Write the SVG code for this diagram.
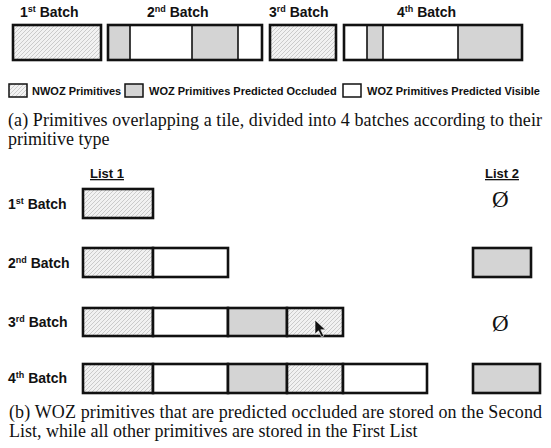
<svg xmlns="http://www.w3.org/2000/svg" width="551" height="448" viewBox="0 0 551 448">
<defs>
<pattern id="hatch" patternUnits="userSpaceOnUse" width="4" height="4">
<rect width="4" height="4" fill="#f2f2f2"/>
<path d="M-1,1 L1,-1 M0,4 L4,0 M3,5 L5,3" stroke="#b0b0b0" stroke-width="0.6"/>
</pattern>
</defs>
<style>
.lbl{font-family:"Liberation Sans",Arial,sans-serif;font-weight:bold;font-size:14px;fill:#111}
.sup{font-size:9px}
.leg{font-family:"Liberation Sans",Arial,sans-serif;font-weight:bold;font-size:11px;fill:#111}
.cap{font-family:"Liberation Serif","Times New Roman",serif;font-size:18px;fill:#111}
.h{fill:url(#hatch)}
.g{fill:#d4d4d4}
.w{fill:#fff}
.ob{fill:none;stroke:#111;stroke-width:2.6}
.seg{stroke:#111;stroke-width:2.6}
.div{stroke:#111;stroke-width:1.6}
.lg{stroke:#111;stroke-width:1.5}
.empty{font-family:"Liberation Serif","Times New Roman",serif;font-size:23px;fill:#111}
</style>

<!-- Top row: batches -->
<g id="top-labels">
<text class="lbl" x="20" y="17">1<tspan class="sup" dy="-5">st</tspan><tspan dy="5"> Batch</tspan></text>
<text class="lbl" x="147" y="17">2<tspan class="sup" dy="-5">nd</tspan><tspan dy="5"> Batch</tspan></text>
<text class="lbl" x="269" y="17">3<tspan class="sup" dy="-5">rd</tspan><tspan dy="5"> Batch</tspan></text>
<text class="lbl" x="397" y="17">4<tspan class="sup" dy="-5">th</tspan><tspan dy="5"> Batch</tspan></text>
</g>
<g id="top-batch1">
<rect class="h" x="13" y="25" width="88" height="35"/>
<rect class="ob" x="13" y="25" width="88" height="35"/>
</g>
<g id="top-batch2">
<rect class="g" x="108" y="25" width="22" height="35"/>
<rect class="w" x="130" y="25" width="62" height="35"/>
<rect class="g" x="192" y="25" width="46" height="35"/>
<rect class="w" x="238" y="25" width="24" height="35"/>
<line class="div" x1="130" y1="25" x2="130" y2="60"/>
<line class="div" x1="192" y1="25" x2="192" y2="60"/>
<line class="div" x1="238" y1="25" x2="238" y2="60"/>
<rect class="ob" x="108" y="25" width="154" height="35"/>
</g>
<g id="top-batch3">
<rect class="h" x="270" y="25" width="66" height="35"/>
<rect class="ob" x="270" y="25" width="66" height="35"/>
</g>
<g id="top-batch4">
<rect class="w" x="344" y="25" width="23" height="35"/>
<rect class="g" x="367" y="25" width="16" height="35"/>
<rect class="w" x="383" y="25" width="75" height="35"/>
<rect class="g" x="458" y="25" width="64" height="35"/>
<line class="div" x1="367" y1="25" x2="367" y2="60"/>
<line class="div" x1="383" y1="25" x2="383" y2="60"/>
<line class="div" x1="458" y1="25" x2="458" y2="60"/>
<rect class="ob" x="344" y="25" width="178" height="35"/>
</g>

<!-- Legend -->
<g id="legend">
<rect class="h lg" x="9" y="84" width="18" height="13"/>
<text class="leg" x="32" y="95">NWOZ Primitives</text>
<rect class="g lg" x="125" y="84" width="18" height="13"/>
<text class="leg" x="149" y="95">WOZ Primitives Predicted Occluded</text>
<rect class="w lg" x="343" y="84" width="18" height="13"/>
<text class="leg" x="367" y="95">WOZ Primitives Predicted Visible</text>
</g>

<g id="caption-a">
<text class="cap" x="8" y="126" textLength="534" lengthAdjust="spacing">(a) Primitives overlapping a tile, divided into 4 batches according to their</text>
<text class="cap" x="8" y="145">primitive type</text>
</g>

<!-- Lists -->
<g id="list-headers">
<text class="lbl" x="90" y="178" style="font-size:13px;text-decoration:underline">List 1</text>
<text class="lbl" x="485" y="178" style="font-size:13px;text-decoration:underline">List 2</text>
</g>

<g id="row1">
<text class="lbl" x="8" y="209">1<tspan class="sup" dy="-5">st</tspan><tspan dy="5"> Batch</tspan></text>
<rect class="h seg" x="83" y="189" width="70" height="29"/>
<text class="empty" x="492" y="207">Ø</text>
</g>

<g id="row2">
<text class="lbl" x="8" y="268">2<tspan class="sup" dy="-5">nd</tspan><tspan dy="5"> Batch</tspan></text>
<rect class="h seg" x="83" y="248" width="70" height="29"/>
<rect class="w seg" x="153" y="248" width="75" height="29"/>
<rect class="g seg" x="473" y="248" width="58" height="29"/>
</g>

<g id="row3">
<text class="lbl" x="8" y="327">3<tspan class="sup" dy="-5">rd</tspan><tspan dy="5"> Batch</tspan></text>
<rect class="h seg" x="83" y="308" width="70" height="28"/>
<rect class="w seg" x="153" y="308" width="75" height="28"/>
<rect class="g seg" x="228" y="308" width="59" height="28"/>
<rect class="h seg" x="287" y="308" width="56" height="28"/>
<text class="empty" x="492" y="331">Ø</text>
</g>

<g id="row4">
<text class="lbl" x="8" y="383">4<tspan class="sup" dy="-5">th</tspan><tspan dy="5"> Batch</tspan></text>
<rect class="h seg" x="83" y="364" width="70" height="29"/>
<rect class="w seg" x="153" y="364" width="75" height="29"/>
<rect class="g seg" x="228" y="364" width="59" height="29"/>
<rect class="h seg" x="287" y="364" width="56" height="29"/>
<rect class="w seg" x="343" y="364" width="84" height="29"/>
<rect class="g seg" x="473" y="364" width="67" height="29"/>
</g>

<g id="connectors"></g>

<path id="cursor" d="M315,320 L315,334 L318.5,330.8 L321.5,337 L323.8,336 L320.8,329.8 L325.5,329.8 Z" fill="#111" stroke="#fff" stroke-width="0.6"/>

<g id="caption-b">
<text class="cap" x="9" y="418" textLength="533" lengthAdjust="spacing">(b) WOZ primitives that are predicted occluded are stored on the Second</text>
<text class="cap" x="9" y="437">List, while all other primitives are stored in the First List</text>
</g>
</svg>
